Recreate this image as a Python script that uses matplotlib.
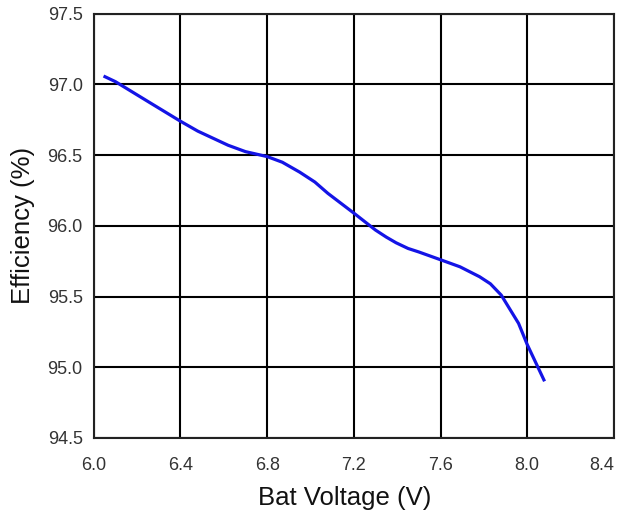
import matplotlib
matplotlib.use("Agg")
from matplotlib import pyplot as plt

plt.rcParams['font.family'] = ['Liberation Sans', 'DejaVu Sans']

# curve
bat_voltage = [6.045, 6.1, 6.255, 6.4, 6.48, 6.62, 6.7, 6.8, 6.87, 6.95, 7.02, 7.08, 7.2,
               7.3, 7.35, 7.395, 7.45, 7.5, 7.6, 7.69, 7.78, 7.83, 7.88, 7.96, 8.0, 8.08]
efficiency = [97.06, 97.02, 96.875, 96.74, 96.67, 96.57, 96.525, 96.49, 96.45, 96.38, 96.31, 96.23, 96.09,
              95.97, 95.92, 95.88, 95.84, 95.815, 95.76, 95.71, 95.64, 95.59, 95.51, 95.31, 95.16, 94.9]

x_ticks = [6.0, 6.4, 6.8, 7.2, 7.6, 8.0, 8.4]
y_ticks = [94.5, 95.0, 95.5, 96.0, 96.5, 97.0, 97.5]

fig = plt.figure(figsize=(6.17, 5.32), dpi=100)
ax = fig.add_axes([0.152, 0.177, 0.843, 0.797])

ax.plot(bat_voltage, efficiency, color='#1414e6', linewidth=2.3,
        solid_capstyle='butt', solid_joinstyle='round')

ax.set_xlim(6.0, 8.4)
ax.set_ylim(94.5, 97.5)
ax.set_xticks(x_ticks)
ax.set_yticks(y_ticks)
ax.set_xticklabels(["%.1f" % v for v in x_ticks])
ax.set_yticklabels(["%.1f" % v for v in y_ticks])
ax.get_xticklabels()[-1].set_ha('right')
ax.grid(True, color='black', linewidth=1.5)
ax.set_axisbelow(True)
for s in ax.spines.values():
    s.set_linewidth(1.5)
    s.set_color('#222222')
ax.tick_params(length=0, labelsize=13, labelcolor='#333333')
ax.tick_params(axis='x', pad=14)
ax.tick_params(axis='y', pad=8)

ax.set_xlabel("Bat Voltage (V)", fontsize=18.5, color='#111111')
ax.xaxis.set_label_coords(0.482, -0.113)
ax.set_ylabel("Efficiency (%)", fontsize=18.5, color='#111111', labelpad=9)

fig.savefig("out.png", dpi=100)
